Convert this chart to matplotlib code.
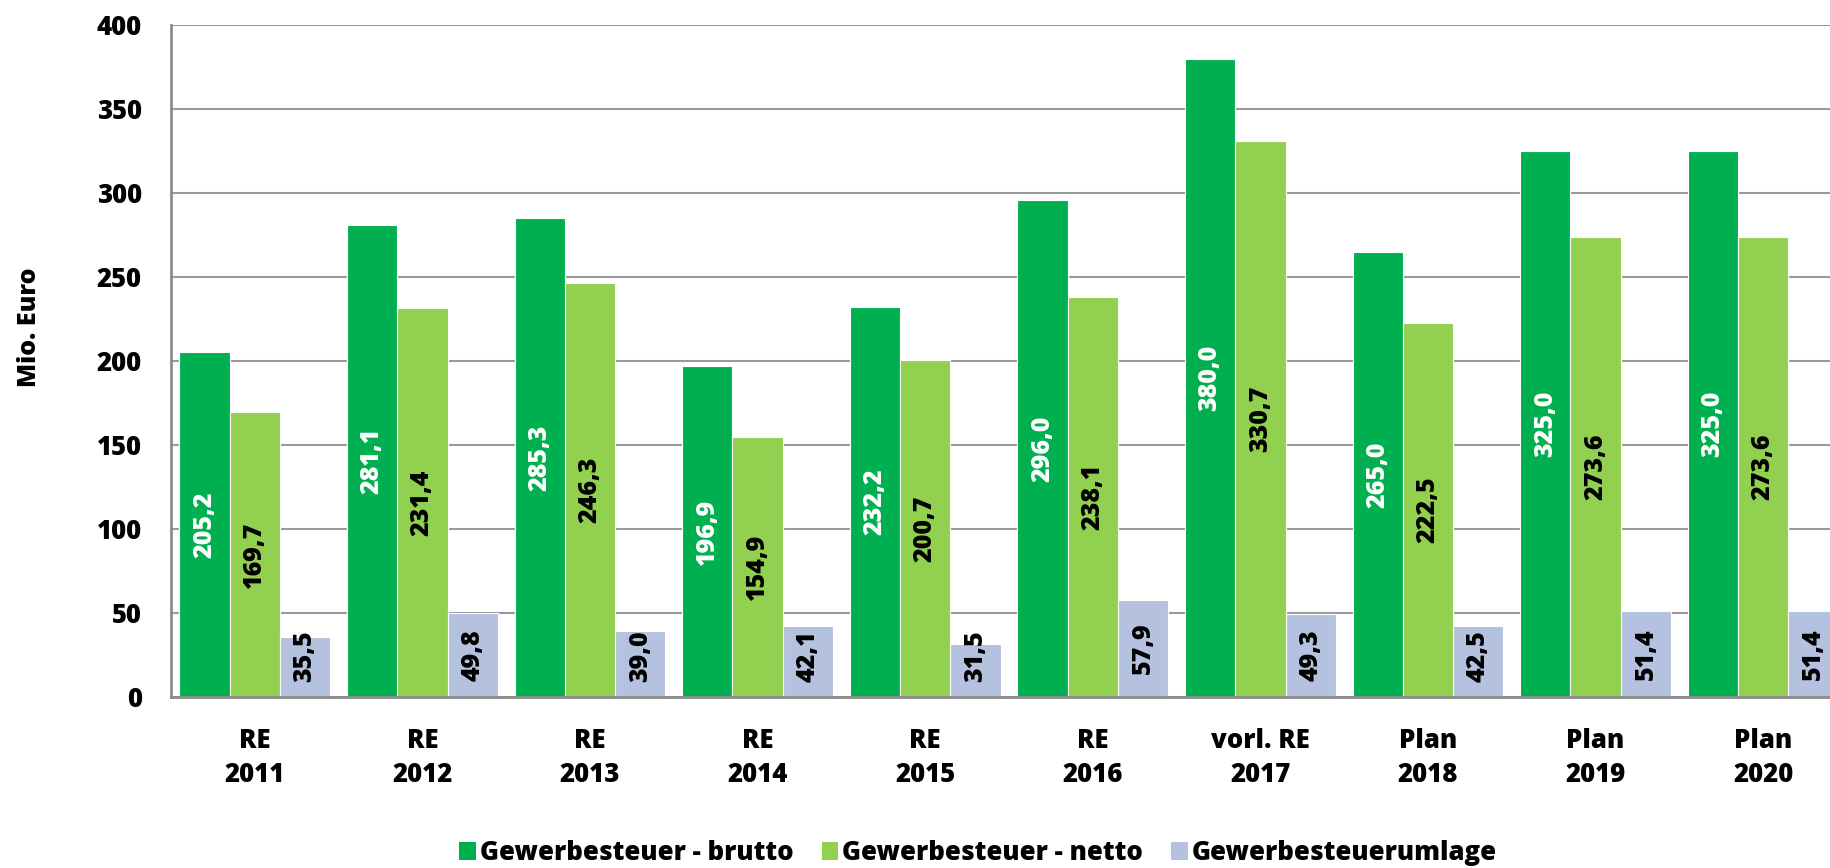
import numpy as np
import matplotlib
matplotlib.use("Agg")
import matplotlib.pyplot as plt
from matplotlib.patches import Patch

plt.rcParams['font.family'] = ['Open Sans', 'DejaVu Sans']
plt.rcParams['font.weight'] = 'bold'
FW = 800

# data
categories = ["RE\n2011", "RE\n2012", "RE\n2013", "RE\n2014", "RE\n2015",
              "RE\n2016", "vorl. RE\n2017", "Plan\n2018", "Plan\n2019", "Plan\n2020"]
brutto = [205.2, 281.1, 285.3, 196.9, 232.2, 296.0, 380.0, 265.0, 325.0, 325.0]
netto = [169.7, 231.4, 246.3, 154.9, 200.7, 238.1, 330.7, 222.5, 273.6, 273.6]
umlage = [35.5, 49.8, 39.0, 42.1, 31.5, 57.9, 49.3, 42.5, 51.4, 51.4]
series_names = ["Gewerbesteuer - brutto", "Gewerbesteuer - netto", "Gewerbesteuerumlage"]

colors = ["#00B050", "#92D050", "#B4C2DF"]
label_colors = ["white", "black", "black"]

fig = plt.figure(figsize=(18.3, 8.68), dpi=100)
# axes runs slightly past the right edge like the original
ax = fig.add_axes([171 / 1830, 171 / 868, 1676 / 1830, 672 / 868])

x = np.arange(len(categories))
w = 0.3
for i, (vals, col, lc) in enumerate(zip([brutto, netto, umlage], colors, label_colors)):
    pos = x + (i - 1) * w
    ax.bar(pos, vals, width=w, color=col, edgecolor="white", linewidth=0.8, zorder=3)
    for px, v in zip(pos, vals):
        # centre in bar, but keep short labels off the base
        ax.text(px, max(v / 2, 24.5), f"{v:.1f}".replace(".", ","), rotation=90,
                ha="center", va="center", color=lc, fontsize=18, fontweight=FW, zorder=4)

ax.set_xlim(-0.5, len(categories) - 0.5)
ax.set_ylim(0, 400)
ax.set_yticks(np.arange(0, 401, 50))
ax.set_xticks(x)
ax.set_xticklabels(categories, fontsize=18.5, fontweight=FW, linespacing=1.4)
ax.tick_params(axis="y", length=0, pad=21, labelsize=18.5)
ax.tick_params(axis="x", length=0, pad=22)
for t in ax.get_yticklabels():
    t.set_fontweight(FW)

ax.grid(axis="y", color="#9a9a9a", linewidth=1.5, zorder=0)
ax.set_axisbelow(True)
for s in ["top", "right"]:
    ax.spines[s].set_visible(False)
ax.spines["left"].set_color("#8c8c8c")
ax.spines["left"].set_linewidth(2)
ax.spines["bottom"].set_color("#8c8c8c")
ax.spines["bottom"].set_linewidth(2)
ax.spines["bottom"].set_zorder(5)

fig.text(30 / 1830, 1 - 327 / 868, "Mio. Euro", rotation=90, ha="center", va="center",
         fontsize=18, fontweight=FW)

handles = [Patch(facecolor=c, edgecolor="none") for c in colors]
fig.legend(handles, series_names, loc="center", bbox_to_anchor=(978 / 1830, 1 - 853 / 868),
           ncol=3, frameon=False, handlelength=0.65, handleheight=0.65,
           handletextpad=0.15, columnspacing=1.1, prop={"weight": FW, "size": 18.5})

fig.savefig("out.png", dpi=100)
